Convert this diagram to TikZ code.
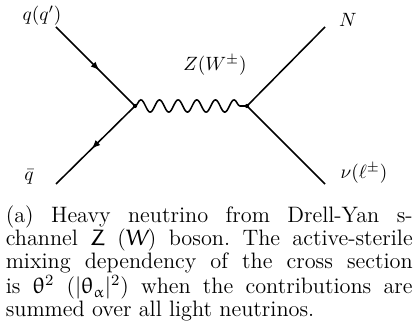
\documentclass[tikz,border=0pt]{standalone}
\usepackage{amsmath}
\usetikzlibrary{arrows.meta,decorations.pathmorphing,decorations.markings}
\newcommand{\eul}{\usefont{U}{eur}{m}{n}}
\frenchspacing
\begin{document}
\begin{tikzpicture}[x=0.52pt,y=-0.52pt,line width=0.8pt,dot/.style={circle,fill,inner sep=0pt,minimum size=2.2pt},fermion/.style={postaction={decorate},decoration={markings,mark=at position 0.55 with {\arrow{Latex[length=4.6pt,width=3.6pt]}}}},photon/.style={decorate,decoration={snake,amplitude=3.2pt,segment length=9.7pt}}]
\useasboundingbox (0,0) rectangle (417,333);
\node[dot] (v1) at (135,106) {};\node[dot] (v2) at (247,106) {};
\coordinate (qin) at (56,27);\coordinate (qb) at (56,184);\coordinate (nout) at (325,27);\coordinate (nuout) at (325,184);
\draw[fermion] (qin)--(v1.center);
\draw[fermion] (v1.center)--(qb);
\draw[photon] (v1.center)--(v2.center);
\draw (v2.center)--(nout);\draw (v2.center)--(nuout);
\node (lq) at (42,16) {$q(q')$};\node (lqb) at (29,177) {$\bar q$};
\node (lz) at (215,65) {$Z(W^\pm)$};
\node (ln) at (348,20) {$N$};\node (lnu) at (364,173) {$\nu(\ell^\pm)$};
\node[anchor=north west,inner sep=0pt,text width=211.6pt,align=justify,font=\fontsize{11.6}{12}\selectfont] (cap) at (5,205) {(a) Heavy neutrino from Drell-Yan s-\linebreak channel {\eul Z} ({\eul W}) boson. The active-sterile\linebreak mixing dependency of the cross section\linebreak is {\eul\char18}\textsuperscript{2} (|{\eul\char18}\textsubscript{\eul\char11}|\textsuperscript{2}) when the contributions are\linebreak summed over all light neutrinos.};
\end{tikzpicture}
\end{document}
